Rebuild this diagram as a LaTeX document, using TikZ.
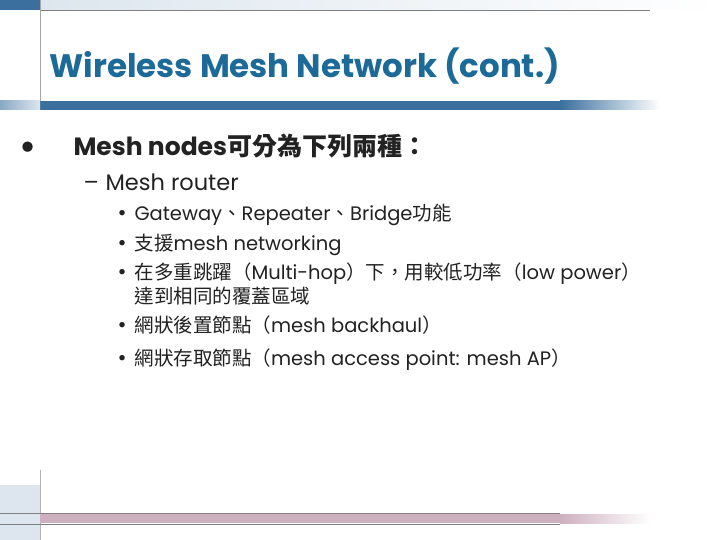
\documentclass[tikz,border=0pt]{standalone}
\usepackage{fontspec}
\setmainfont{Poppins}
\newfontfamily\cjk{Noto Sans CJK TC}
\definecolor{ttl}{HTML}{1C6A98}
\definecolor{bar}{HTML}{3A6F9E}
\definecolor{pinkbar}{HTML}{CDB0BE}
\definecolor{topband}{HTML}{DDE6EE}
\definecolor{txt}{HTML}{222222}
\begin{document}
\begin{tikzpicture}[x=1pt,y=-1pt,
  lvl1/.style={anchor=base west,text=txt,font=\fontsize{25}{28}\selectfont\bfseries},
  lvl2/.style={anchor=base west,text=txt,font=\fontsize{22.5}{26}\selectfont},
  lvl3/.style={anchor=base west,text=txt,font=\fontsize{19.5}{22}\selectfont,align=left},
  dot/.style={anchor=base west,text=txt}]
\useasboundingbox (0,0) rectangle (720,540);
\fill[white] (0,0) rectangle (720,540);
% top band
\shade[left color=topband,right color=white] (40,0) rectangle (720,10);
\fill[bar] (0,0) rectangle (40,10);
\draw[gray,line width=0.8] (40,10.5) -- (650,10.5);
% title
\node[anchor=base west,text=ttl,font=\fontsize{32.5}{36}\selectfont\bfseries] (title) at (46,78) {Wireless Mesh Network (cont.)};
% title bar
\fill[bar] (40,101) rectangle (560,110);
\shade[left color=bar,right color=white] (560,101) rectangle (660,110);
\shade[left color=bar!60,right color=topband] (0,101) rectangle (40,110);
\draw[gray!70,line width=0.5] (40,101) -- (40,0);
% bottom bar
\draw[gray!60,line width=0.5] (40,470) -- (40,540);
\fill[topband] (0,485) rectangle (40,540);
\draw[gray,line width=1] (0,513) -- (560,513);
\draw[gray,line width=1] (0,524) -- (560,524);
\fill[pinkbar] (40,514) rectangle (560,523);
\shade[left color=pinkbar,right color=white] (560,514) rectangle (650,523);
% text
\node[dot,font=\fontsize{34}{36}\selectfont\bfseries] (b1) at (16,159) {•};
\node[lvl1] (t1) at (70,156) {Mesh nodes{\cjk 可分為下列兩種：}};
\node[lvl2] (b2) at (80,191) {–};
\node[lvl2] (t2) at (102,191) {Mesh router};
\foreach \y/\n in {221/a,250/b,279/c,332/d,365/e}
  \node[dot,font=\fontsize{22}{24}\selectfont] (d\n) at (114,\y) {•};
\node[lvl3] (ta) at (131,221) {Gateway{\cjk 、}Repeater{\cjk 、}Bridge{\cjk 功能}};
\node[lvl3] (tb) at (131,250) {{\cjk 支援}mesh networking};
\node[lvl3] (tc) at (131,279) {{\cjk 在多重跳躍（}Multi-hop{\cjk ）下，用較低功率（}low power{\cjk ）}};
\node[lvl3] (tc2) at (131,303) {{\cjk 達到相同的覆蓋區域}};
\node[lvl3] (td) at (131,332) {{\cjk 網狀後置節點（}mesh backhaul{\cjk ）}};
\node[lvl3] (te) at (131,365) {{\cjk 網狀存取節點（}mesh access point: mesh AP{\cjk ）}};
\end{tikzpicture}
\end{document}
